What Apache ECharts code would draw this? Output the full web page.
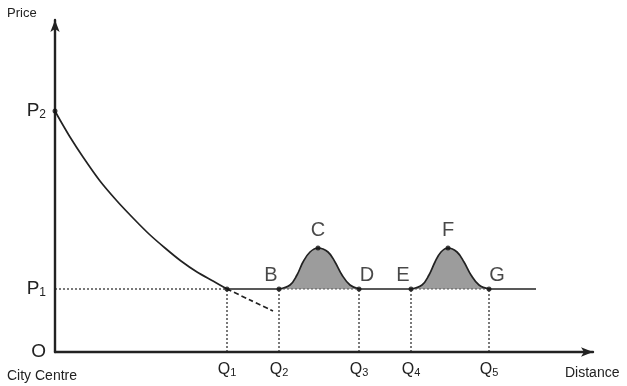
<!DOCTYPE html>
<html>
<head>
<meta charset="utf-8">
<script src="https://cdn.jsdelivr.net/npm/echarts@6/dist/echarts.min.js"></script>
<style>html,body{margin:0;padding:0;background:#fff}#c{width:627px;height:386px}</style>
</head>
<body>
<div id="c"></div>
<script>
// Values (distance units along x, price units along y)
const P1 = 63, P2 = 241;
const qValues = [172, 224, 304, 356, 434];
const qNames = ['Q{s|1}', 'Q{s|2}', 'Q{s|3}', 'Q{s|4}', 'Q{s|5}'];
const lineEnd = 481;
const demandCurve = [[0,241],[5,232],[15,215],[28,195],[45,171],[62,151],[78,134],[94,118],[110,104],[126,91],[142,80],[158,71],[172,63]];
const dashedTail = [[172,63],[195,52],[218,41]];
const bump1 = [[224,63],[235,67],[242,77],[248,90],[255,100],[263,104],[273,100],[280,90],[287,77],[295,67],[304,63]];
const bump2 = [[356,63],[367,67],[374,77],[380,90],[386,100],[393,104],[402,100],[409,90],[416,77],[424,67],[434,63]];
const pointLabels = ['B','C','D','E','F','G'];
const pointValues = [[224,63],[263,104],[304,63],[356,63],[393,104],[434,63]];
const pointSide = ['left','top','right','left','top','right'];

const ink = '#222';
const font = 'Liberation Sans, Arial, sans-serif';

const series = [];
// dotted horizontal from axis to Q1
series.push({type:'line', data:[[0,P1],[qValues[0],P1]], symbol:'none', lineStyle:{color:ink,width:1.2,type:[2,2]}, z:2});
// dotted verticals
qValues.forEach(q => series.push({type:'line', data:[[q,0],[q,P1]], symbol:'none', lineStyle:{color:ink,width:1.2,type:[2,2]}, z:2}));
// dotted base of bumps
[bump1,bump2].forEach(b => series.push({type:'line', data:[[b[0][0],P1],[b[b.length-1][0],P1]], symbol:'none', lineStyle:{color:'#555',width:1,type:[2,2]}, z:4}));
// main horizontal line at P1
series.push({type:'line', data:[[qValues[0],P1],[bump1[0][0],P1]], symbol:'none', lineStyle:{color:ink,width:1.7}, z:3});
series.push({type:'line', data:[[bump1[bump1.length-1][0],P1],[bump2[0][0],P1]], symbol:'none', lineStyle:{color:ink,width:1.7}, z:3});
series.push({type:'line', data:[[bump2[bump2.length-1][0],P1],[lineEnd,P1]], symbol:'none', lineStyle:{color:ink,width:1.7}, z:3});
// demand curve
series.push({type:'line', data:demandCurve, smooth:0.25, symbol:'none', lineStyle:{color:ink,width:1.7}, z:3});
series.push({type:'line', data:dashedTail, smooth:0.3, symbol:'none', lineStyle:{color:ink,width:1.7,type:[5,3]}, z:3});
// bumps
[bump1,bump2].forEach(b => series.push({type:'line', data:b, smooth:0.4, symbol:'none', lineStyle:{color:ink,width:1.7}, areaStyle:{color:'#9c9c9c',opacity:1,origin:P1}, z:3}));
// points
series.push({type:'scatter', data:[[0,P2],[qValues[0],P1]], symbolSize:5, itemStyle:{color:'#111'}, z:6});
series.push({type:'scatter', data:pointValues.map((v,i)=>({value:v, label:{show:true, formatter:pointLabels[i], position:'top',
    distance: pointSide[i]==='top'?5:1,
    offset: pointSide[i]==='left'?[-8,0]:(pointSide[i]==='right'?[8,0]:[0,0])}})), symbolSize:5, itemStyle:{color:'#111'},
  label:{color:'#1a1a1a',fontSize:20,fontFamily:font}, z:6});

const option = {
  animation:false,
  backgroundColor:'#fff',
  grid:{left:55,right:34,top:20,bottom:34},
  xAxis:{type:'value',min:0,max:538,
    axisLine:{show:true,lineStyle:{color:ink,width:2.4},symbol:['none','arrow'],symbolSize:[7,12]},
    axisTick:{show:false}, splitLine:{show:false},
    axisLabel:{customValues:qValues, formatter:(v)=>qNames[qValues.indexOf(v)], color:ink, fontSize:16, fontFamily:font, margin:9,
      rich:{s:{fontSize:11,fontFamily:font,color:ink,verticalAlign:'bottom',padding:[6,0,0,0]}}}
  },
  yAxis:{type:'value',min:0,max:332,
    axisLine:{show:true,lineStyle:{color:ink,width:2.4},symbol:['none','arrow'],symbolSize:[7,12]},
    axisTick:{show:false}, splitLine:{show:false},
    axisLabel:{customValues:[0,P1,P2], formatter:(v)=> v===0?'O':(v===P1?'P{s|1}':'P{s|2}'), color:ink, fontSize:19, fontFamily:font, margin:9,
      rich:{s:{fontSize:12,fontFamily:font,color:ink,verticalAlign:'bottom',padding:[7,0,0,0]}}}
  },
  graphic:[
    {type:'text', left:7, top:7, style:{text:'Price', fontSize:13, fontFamily:font, fill:ink}},
    {type:'text', left:7, top:369, style:{text:'City Centre', fontSize:14, fontFamily:font, fill:ink}},
    {type:'text', left:565, top:366, style:{text:'Distance', fontSize:14, fontFamily:font, fill:ink}}
  ],
  series:series
};
echarts.init(document.getElementById('c'),null,{renderer:'canvas'}).setOption(option);
</script>
</body>
</html>
